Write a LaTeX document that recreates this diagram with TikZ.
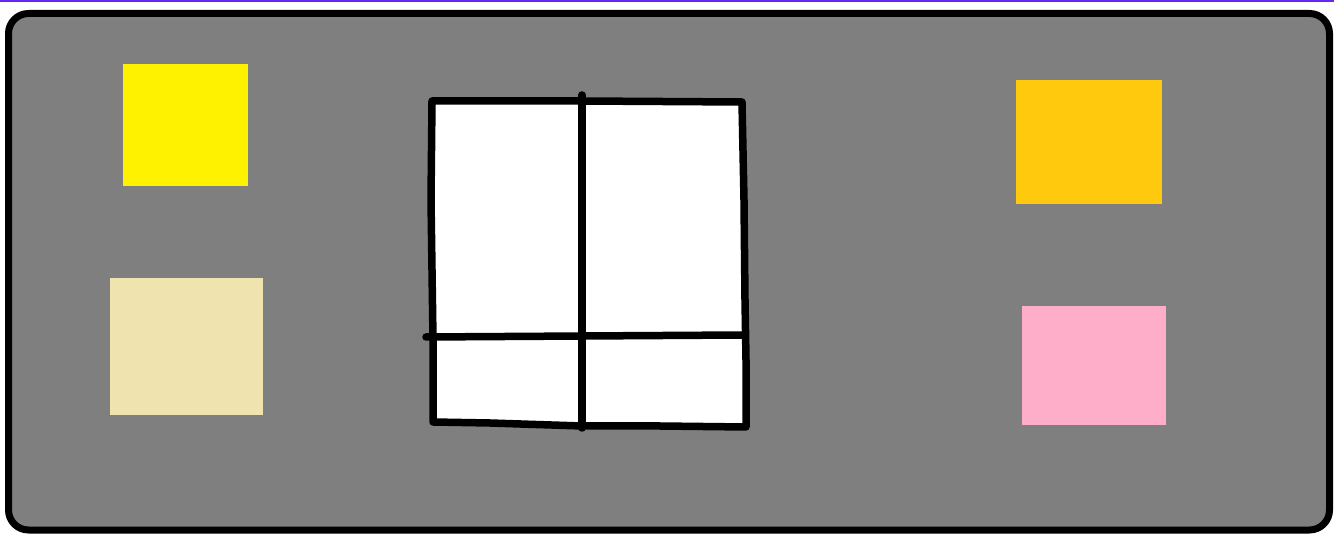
\documentclass[tikz,border=0pt]{standalone}
\definecolor{topline}{RGB}{100,40,240}
\definecolor{panel}{RGB}{127,127,127}
\definecolor{sqyellow}{RGB}{255,242,0}
\definecolor{sqbeige}{RGB}{239,228,176}
\definecolor{sqorange}{RGB}{255,201,14}
\definecolor{sqpink}{RGB}{255,174,201}
\tikzset{
  sq/.style={draw=none, inner sep=0pt, outer sep=0pt, rectangle},
  winline/.style={line width=7.5pt, line cap=round, line join=round, black},
}
\begin{document}
\begin{tikzpicture}[x=1pt,y=-1pt]
\useasboundingbox (0,0) rectangle (1334,534);
\fill[white] (0,0) rectangle (1334,534);
\fill[topline] (0,0) rectangle (1334,2.5);
% panel
\draw[line width=7pt, fill=panel, rounded corners=20pt] (8.5,13.5) rectangle (1329.5,530);
% squares
\node[sq, fill=sqyellow, minimum width=125pt, minimum height=122pt, anchor=north west] (yellow) at (123,64) {};
\node[sq, fill=sqbeige, minimum width=153pt, minimum height=137pt, anchor=north west] (beige) at (110,278) {};
\node[sq, fill=sqorange, minimum width=146pt, minimum height=124pt, anchor=north west] (orange) at (1016,80) {};
\node[sq, fill=sqpink, minimum width=144pt, minimum height=119pt, anchor=north west] (pink) at (1022,306) {};
% window
\coordinate (tl) at (432,101);
\coordinate (tr) at (742,102);
\coordinate (br) at (746,427);
\coordinate (bl) at (433,422);
\fill[white] (tl) -- (tr) -- (br) -- (bl) -- cycle;
\draw[winline] (tl) -- (582,101) -- (tr) -- (744,200) -- (745,300) -- (746,360) -- (br) -- (660,426) -- (582,426) -- (490,423) -- (bl) -- (433,340) -- (431,200) -- cycle;
\coordinate (vt) at (582,95);
\coordinate (vb) at (582,428);
\draw[winline] (vt) -- (vb);
\coordinate (hl) at (426,337);
\coordinate (hr) at (742,335);
\draw[winline] (hl) -- (hr);
\end{tikzpicture}
\end{document}
